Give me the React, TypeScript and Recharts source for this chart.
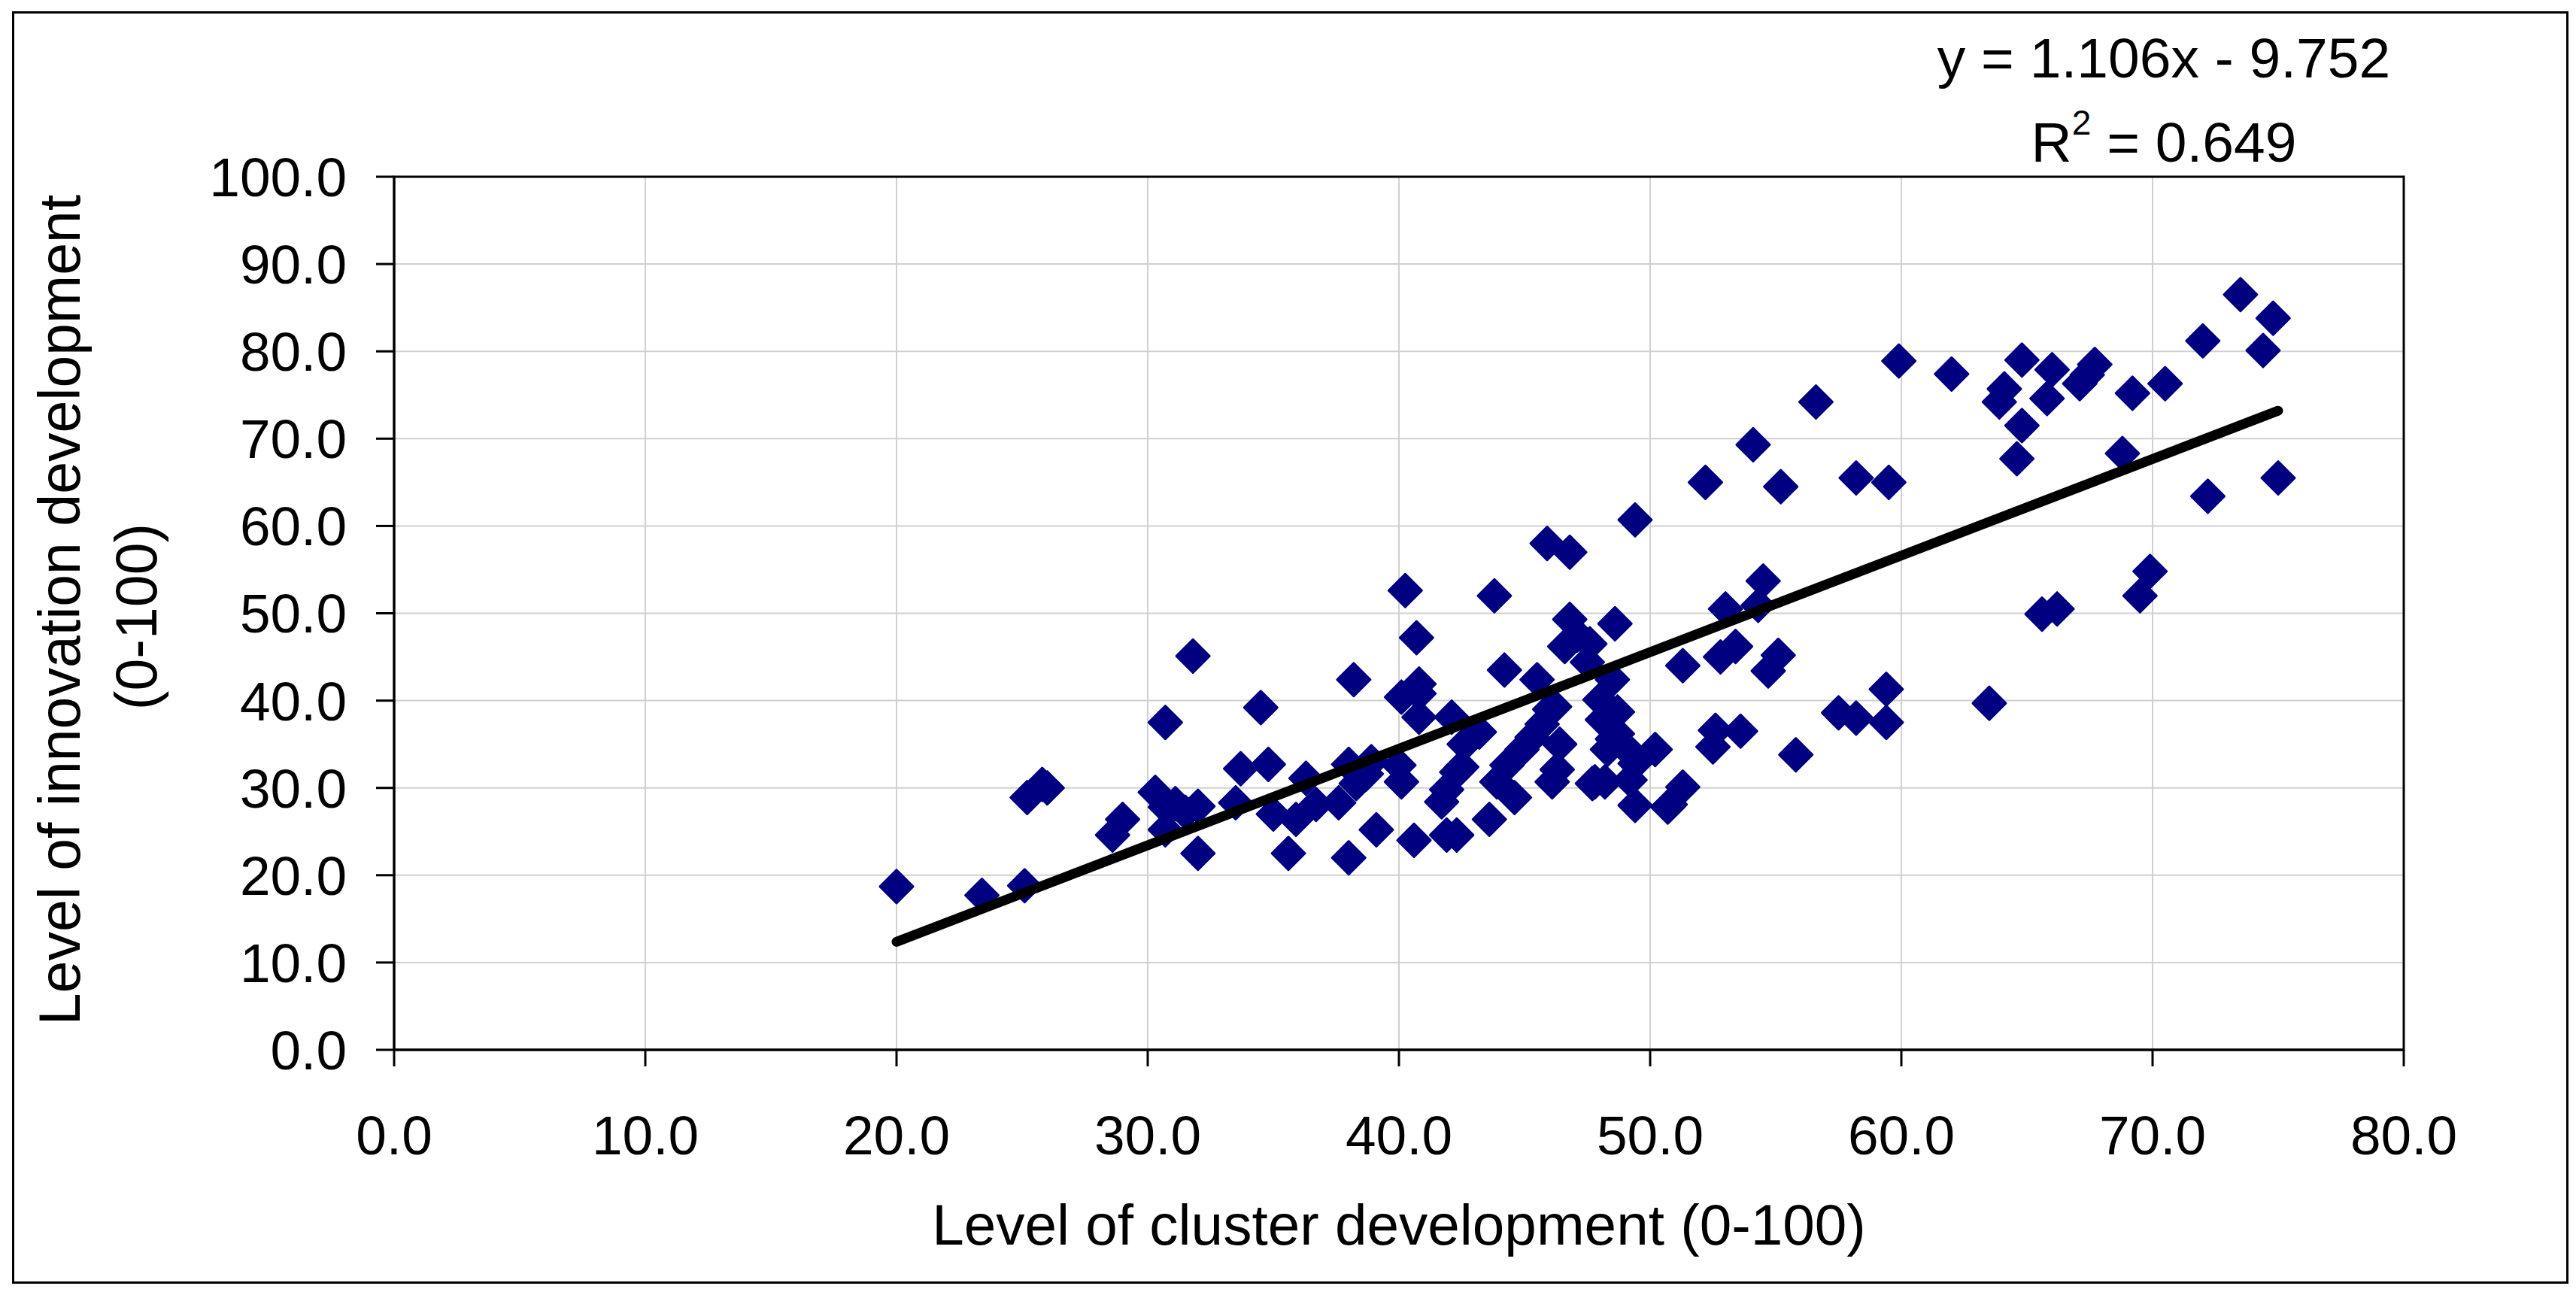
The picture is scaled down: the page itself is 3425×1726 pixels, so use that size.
import React from "react"
import {
  ScatterChart,
  Scatter,
  XAxis,
  YAxis,
  CartesianGrid,
  ReferenceArea,
} from "recharts"

// cluster development (x) vs innovation development (y)
const clusterLevel = [
  20.0, 23.4, 25.1, 25.2, 25.8, 26.0, 28.6, 29.0, 30.3, 30.7, 30.7, 30.7, 31.1, 31.5, 31.8, 32.0,
  32.0, 33.5, 33.7, 34.5, 34.8, 35.0, 35.6, 35.9, 36.3, 36.7, 37.6, 38.0, 38.0, 38.2, 38.3,
  38.7, 38.9, 39.1, 40.0, 40.1, 40.1, 40.25, 40.6, 40.7, 40.8, 40.8, 40.8, 41.7, 41.9, 41.9,
  42.1, 42.3, 42.3, 42.5, 42.6, 43.2, 43.6, 43.8, 43.9, 44.2, 44.3, 44.6, 44.9, 45.3, 45.5,
  45.7, 45.9, 46.0, 46.1, 46.2, 46.3, 46.4, 46.6, 46.8, 46.8, 47.1, 47.5, 47.6, 47.7, 47.8,
  48.0, 48.1, 48.2, 48.3, 48.3, 48.5, 48.5, 48.6, 48.7, 48.7, 49.2, 49.3, 49.4, 49.4, 49.4,
  50.2, 50.7, 50.8, 51.3, 51.3, 52.2, 52.5, 52.6, 52.8, 53.0, 53.4, 53.6, 54.1, 54.3, 54.5,
  54.7, 55.1, 55.2, 55.8, 56.6, 57.5, 58.2, 58.2, 59.4, 59.4, 59.5, 59.9, 62.0, 63.5, 63.9,
  64.1, 64.6, 64.8, 64.8, 65.6, 65.8, 66.0, 66.2, 67.1, 67.4, 67.7, 68.8, 69.2, 69.5, 69.9,
  70.5, 72.0, 72.2, 73.5, 74.4, 74.8, 75.0,
]
const innovationLevel = [
  18.7, 17.7, 18.8, 28.9, 30.4, 30.0, 24.6, 26.4, 29.5, 37.5, 27.8, 25.2, 28.2, 27.2, 45.1, 27.9,
  22.5, 28.3, 32.2, 39.2, 32.7, 27.0, 22.5, 26.4, 31.1, 28.1, 28.3, 32.7, 22.0, 42.4, 30.5,
  31.6, 33.0, 25.2, 32.6, 40.4, 30.7, 52.6, 24.0, 47.2, 41.9, 38.1, 40.8, 28.4, 29.8, 24.6,
  38.1, 31.8, 24.6, 32.4, 35.0, 36.4, 26.4, 52.0, 30.7, 43.5, 32.6, 28.9, 34.4, 35.8, 42.4,
  37.3, 58.0, 39.0, 30.7, 39.3, 32.1, 35.0, 46.2, 49.3, 57.0, 47.5, 44.4, 46.5, 30.5, 30.7,
  40.1, 37.8, 30.7, 37.6, 34.4, 42.4, 35.6, 48.8, 38.7, 36.2, 30.9, 33.8, 28.0, 32.8, 60.7,
  34.4, 27.8, 28.1, 44.0, 30.1, 65.0, 34.7, 36.6, 45.0, 50.5, 46.2, 36.5, 69.3, 50.9, 53.7,
  43.4, 45.2, 64.5, 33.8, 74.2, 38.6, 38.0, 65.5, 41.3, 37.5, 65.0, 78.9, 77.4, 39.7, 74.2,
  75.7, 67.7, 79.0, 71.5, 49.9, 74.6, 77.9, 50.5, 76.3, 77.3, 78.5, 68.3, 75.2, 52.0, 54.8,
  76.3, 81.2, 63.4, 86.5, 80.1, 83.8, 65.5,
]

// linear trend y = 1.106x - 9.752 (R² = 0.649), end points
const trendX = [20.0, 75.0]
const trendY = [12.37, 73.2]

const xTicks = [0, 10, 20, 30, 40, 50, 60, 70, 80]
const yTicks = [0, 10, 20, 30, 40, 50, 60, 70, 80, 90, 100]

const points = clusterLevel.map((x, i) => ({ x, y: innovationLevel[i] }))
const trend = trendX.map((x, i) => ({ x, y: trendY[i] }))

const FONT = "'Liberation Sans', Arial, sans-serif"
const NAVY = "#000080"

function Diamond(props: any) {
  const { cx, cy } = props
  if (cx == null || cy == null) return <g />
  const r = 22
  return (
    <polygon
      points={`${cx},${cy - r} ${cx + r},${cy} ${cx},${cy + r} ${cx - r},${cy}`}
      fill={NAVY}
      stroke={NAVY}
      strokeWidth={3}
      strokeLinejoin="round"
    />
  )
}

const tickStyle = { fontSize: 73, fill: "#000", fontFamily: FONT }

export default function App() {
  return (
    <div
      style={{
        position: "absolute",
        left: 0,
        top: 0,
        width: 3425,
        height: 1726,
        background: "#fff",
        fontFamily: FONT,
      }}
    >
      <div
        style={{
          position: "absolute",
          left: 16,
          top: 15,
          width: 3399,
          height: 1692,
          border: "3px solid #000",
          boxSizing: "border-box",
        }}
      />
      <ScatterChart
        width={3425}
        height={1726}
        margin={{ top: 235, right: 229, bottom: 230, left: 24 }}
        style={{ position: "absolute", left: 0, top: 0 }}
      >
        <CartesianGrid stroke="#d0d0d0" strokeWidth={2} />
        <XAxis
          type="number"
          dataKey="x"
          domain={[0, 80]}
          ticks={xTicks}
          interval={0}
          height={100}
          allowDataOverflow
          tickFormatter={(v) => v.toFixed(1)}
          tick={tickStyle}
          tickSize={22}
          tickMargin={65}
          axisLine={{ stroke: "#000", strokeWidth: 3 }}
          tickLine={{ stroke: "#000", strokeWidth: 3 }}
        />
        <YAxis
          type="number"
          dataKey="y"
          domain={[0, 100]}
          ticks={yTicks}
          interval={0}
          width={500}
          allowDataOverflow
          tickFormatter={(v) => v.toFixed(1)}
          tick={tickStyle}
          tickSize={24}
          tickMargin={39}
          axisLine={{ stroke: "#000", strokeWidth: 3 }}
          tickLine={{ stroke: "#000", strokeWidth: 3 }}
        />
        <ReferenceArea
          x1={0}
          x2={80}
          y1={0}
          y2={100}
          fill="none"
          stroke="#000"
          strokeWidth={3}
          fillOpacity={0}
        />
        <Scatter
          data={points}
          shape={<Diamond />}
          isAnimationActive={false}
        />
        <Scatter
          data={trend}
          line={{ stroke: "#000", strokeWidth: 13, strokeLinecap: "round" }}
          lineType="joint"
          shape={() => <g />}
          isAnimationActive={false}
        />
      </ScatterChart>
      <svg
        width={3425}
        height={1726}
        style={{ position: "absolute", left: 0, top: 0, pointerEvents: "none" }}
        fontFamily={FONT}
      >
        <text
          x={106}
          y={811}
          transform="rotate(-90 106 811)"
          textAnchor="middle"
          fontSize={77}
          fill="#000"
        >
          Level of innovation development
        </text>
        <text
          x={208}
          y={820}
          transform="rotate(-90 208 820)"
          textAnchor="middle"
          fontSize={77}
          fill="#000"
        >
          (0-100)
        </text>
        <text x={1860} y={1655} textAnchor="middle" fontSize={76.5} fill="#000">
          Level of cluster development (0-100)
        </text>
        <text x={2877} y={103} textAnchor="middle" fontSize={75} fill="#000">
          y = 1.106x - 9.752
        </text>
        <text x={2877} y={215} textAnchor="middle" fontSize={75} fill="#000">
          R
          <tspan fontSize={46} dy={-36}>
            2
          </tspan>
          <tspan dy={36}> = 0.649</tspan>
        </text>
      </svg>
    </div>
  )
}
